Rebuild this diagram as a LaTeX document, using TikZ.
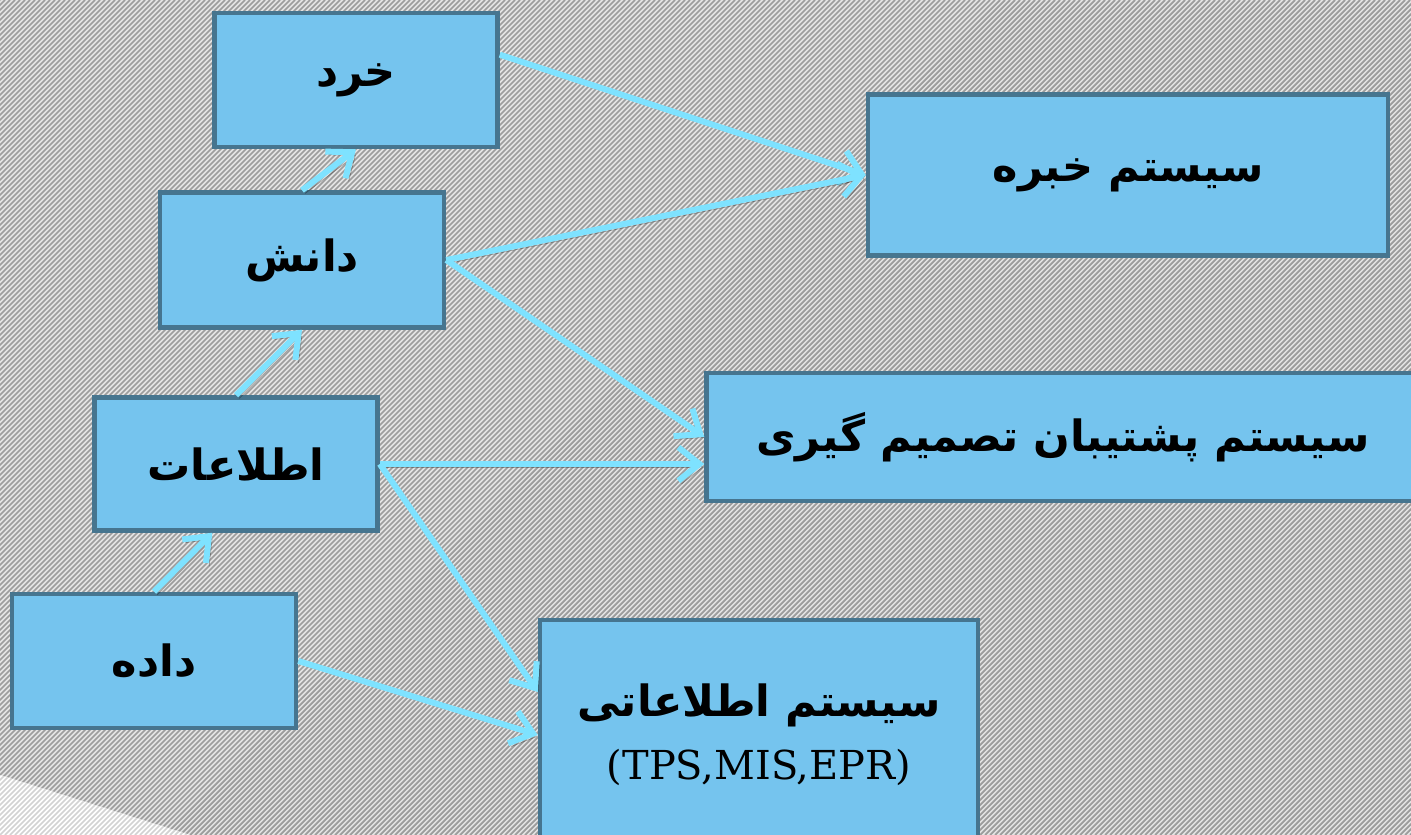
\documentclass[tikz,border=0pt]{standalone}
\usepackage{fontspec}
\usetikzlibrary{arrows.meta}
\newfontfamily\farsi[Script=Arabic]{DejaVu Sans}
\newfontfamily\slab{DejaVu Serif}
\TeXXeTstate=1
\definecolor{bleu}{HTML}{75C4EE}
\definecolor{bord}{HTML}{46758F}
\definecolor{cyanclair}{HTML}{7EE2FF}
\definecolor{fond}{HTML}{E4E4E4}
\definecolor{trait}{HTML}{9C9C9C}

\begin{document}
\begin{tikzpicture}[x=0.02cm,y=-0.02cm]
      \tikzstyle{boite}=[rectangle, draw=bord, line width=2.6pt, fill=bleu, text=black, font=\farsi\bfseries\fontsize{24.5}{30}\selectfont]
      \tikzstyle{fleche}=[-{Straight Barb[length=12pt,width=19pt]}, line width=3.4pt, draw=cyanclair,
        preaction={draw=black, opacity=0.3, transform canvas={shift={(1.8pt,-1.8pt)}}}]
      \tikzstyle{hachure}=[line width=1pt]

      % fond hachure
      \clip (0,0) rectangle (1411,835);
      \fill[fond] (0,0) rectangle (1411,835);
      \foreach \i in {-840,-835,...,1415}
        \draw[hachure, trait] (\i,835) -- (\i+835,0);
      \begin{scope}
        \clip (0,775) -- (190,835) -- (0,835) -- cycle;
        \fill[white] (0,700) rectangle (300,835);
        \foreach \i in {-840,-835,...,200}
          \draw[hachure, trait!45] (\i,835) -- (\i+835,0);
      \end{scope}

      \node[boite, minimum width=5.66cm, minimum height=2.68cm] (Kherad) at (356,80) {\beginR خرد\endR};
      \node[boite, minimum width=5.68cm, minimum height=2.7cm] (Danesh) at (302,260) {\beginR دانش\endR};
      \node[boite, minimum width=5.66cm, minimum height=2.66cm] (Ettelaat) at (236,464) {\beginR اطلاعات\endR};
      \node[boite, minimum width=5.68cm, minimum height=2.68cm] (Dade) at (154,661) {\beginR داده\endR};
      \node[boite, minimum width=10.4cm, minimum height=3.22cm] (Khebre) at (1128,175) {\beginR سیستم خبره\endR};
      \node[boite, minimum width=14.26cm, minimum height=2.56cm] (DSS) at (1063,437) {\beginR سیستم پشتیبان تصمیم گیری\endR};
      \node[boite, minimum width=8.76cm, minimum height=4.6cm, align=center] (SI) at (759,735) {\beginR سیستم اطلاعاتی\endR\\[6pt] {\slab\mdseries\fontsize{22.7}{26}\selectfont (TPS,MIS,EPR)}};

      \draw[fleche] (Dade.north)--(Ettelaat.-109.5);
      \draw[fleche] (Ettelaat.north)--(Danesh.south);
      \draw[fleche] (Danesh.north)--(Kherad.south);
      \draw[fleche] (Kherad.10)--(Khebre.west);
      \draw[fleche] (Danesh.east)--(Khebre.west);
      \draw[fleche] (Danesh.east)--(DSS.west);
      \draw[fleche] (Ettelaat.east)--(Ettelaat.east -| DSS.west);
      \draw[fleche] (Ettelaat.east)--(SI.169.6);
      \draw[fleche] (Dade.east)--(SI.west);

    \end{tikzpicture}
\end{document}
